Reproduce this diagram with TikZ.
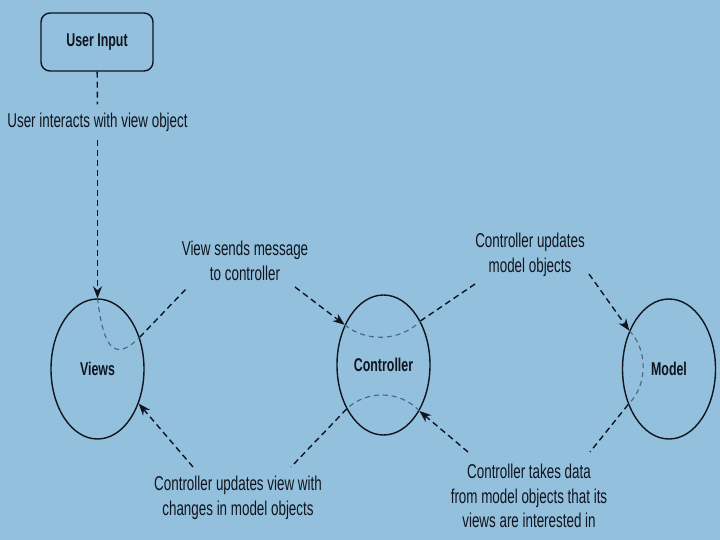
\documentclass[tikz,border=0pt]{standalone}
\usepackage{fontspec}
\setmainfont[FakeStretch=0.67]{Liberation Sans}
\usetikzlibrary{shapes.geometric,arrows.meta}
\definecolor{bgblue}{RGB}{147,192,220}
\definecolor{ink}{RGB}{16,20,30}
\definecolor{faint}{RGB}{72,102,128}

\begin{document}
\begin{tikzpicture}[x=1pt, y=-1pt, thick,
    obj/.style={draw=ink, ellipse, line width=1.4pt, minimum width=93pt, minimum height=140pt, inner sep=0pt, text=ink, font=\fontsize{18.5}{22}\selectfont\bfseries},
    note/.style={align=center, text=ink, inner sep=2pt, font=\fontsize{20}{24.5}\selectfont},
    conn/.style={draw=ink, line width=1.4pt, dash pattern=on 6pt off 4pt},
    tip/.style={conn, -{Stealth[length=12pt,width=9pt]}},
    hidden/.style={draw=faint, line width=1.1pt, dash pattern=on 5pt off 4pt}]

    \fill[bgblue] (0,0) rectangle (720,540);
    \useasboundingbox (0,0) rectangle (720,540);

    % objects
    \node[draw=ink, rounded corners=9pt, line width=1.4pt, minimum width=112pt, minimum height=58pt, text=ink, font=\fontsize{18.5}{22}\selectfont\bfseries] (input) at (97,42) {User Input};
    \node[obj] (views) at (97.5,369) {Views};
    \node[obj] (ctrl) at (383.5,365) {Controller};
    \node[obj] (model) at (669,369) {Model};

    % labels
    \node[note, inner ysep=8pt] (act) at (97.5,122) {User interacts with view object};
    \node[note] (send) at (245,261) {View sends message\\to controller};
    \node[note] (upmodel) at (530,255) {Controller updates\\model objects};
    \node[note] (takes) at (529,496) {Controller takes data\\from model objects that its\\views are interested in};
    \node[note] (upview) at (238,498) {Controller updates view with\\changes in model objects};

    % free ends near the labels
    \coordinate (sendin) at (188,287);
    \coordinate (sendout) at (295,287);
    \coordinate (upmodelin) at (478,282);
    \coordinate (upmodelout) at (589,274);
    \coordinate (takesin) at (590,452);
    \coordinate (takesout) at (468,452);
    \coordinate (upviewin) at (291,467);
    \coordinate (upviewout) at (193,467);

    % user input to views
    \draw[conn] (input) -- (act);
    \draw[tip] (act) -- (views.north);

    % views to controller
    \draw[hidden] (views.north) .. controls (103,345) and (113,364) .. (views.37);
    \draw[conn] (views.37) -- (sendin);
    \draw[tip] (sendout) -- (ctrl.134);

    % controller to model
    \draw[hidden] (ctrl.134) .. controls (365,342) and (400,342) .. (ctrl.50);
    \draw[conn] (ctrl.50) -- (upmodelin);
    \draw[tip] (upmodelout) -- (model.136);

    % model back to controller
    \draw[hidden] (model.136) .. controls (648,350) and (648,385) .. (model.-139);
    \draw[conn] (model.-139) -- (takesin);
    \draw[tip] (takesout) -- (ctrl.-52);

    % controller back to views
    \draw[hidden] (ctrl.-52) .. controls (400,390) and (366,390) .. (ctrl.-130);
    \draw[conn] (ctrl.-130) -- (upviewin);
    \draw[tip] (upviewout) -- (views.-40);
\end{tikzpicture}
\end{document}
